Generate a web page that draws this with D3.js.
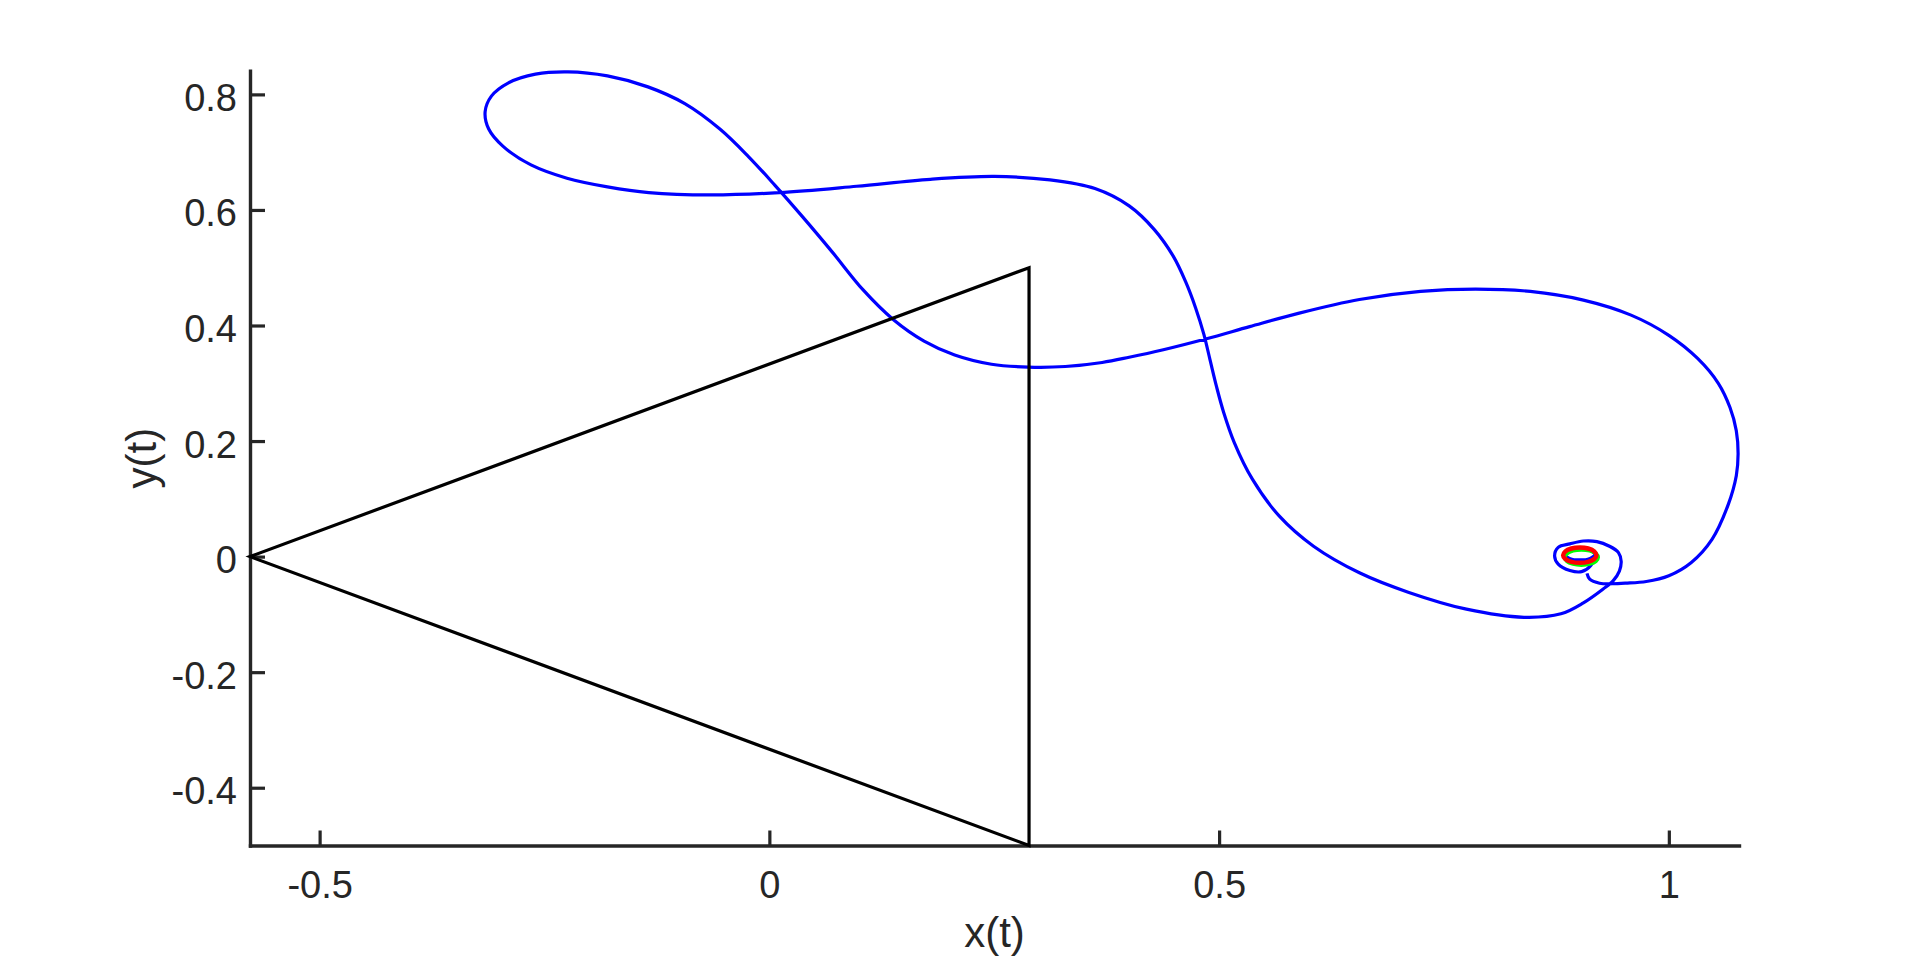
<!DOCTYPE html>
<html><head><meta charset="utf-8">
<script src="https://cdn.jsdelivr.net/npm/d3@7"></script>
<style>html,body{margin:0;padding:0;background:#fff;} svg{display:block;}</style>
</head><body>
<svg id="chart" width="1920" height="963"></svg>
<script>
// ---- data ----
const xTickValues = [-0.5, 0, 0.5, 1];
const xTickLabels = ["-0.5", "0", "0.5", "1"];
const yTickValues = [-0.4, -0.2, 0, 0.2, 0.4, 0.6, 0.8];
const yTickLabels = ["-0.4", "-0.2", "0", "0.2", "0.4", "0.6", "0.8"];
const xLabel = "x(t)";
const yLabel = "y(t)";

// triangle vertices
const triangle = [[-0.5774, 0], [0.2887, 0.5], [0.2887, -0.5]];

// blue trajectory
const blueTrajectory = [
  [0.909,-0.029],[0.912,-0.039],[0.923,-0.046],[0.937,-0.047],[0.952,-0.046],[0.975,-0.043],
  [1.000,-0.033],[1.025,-0.010],[1.048,0.030],[1.066,0.090],[1.075,0.140],[1.077,0.178],
  [1.075,0.218],[1.068,0.258],[1.055,0.300],[1.032,0.343],[1.000,0.383],[0.958,0.418],
  [0.905,0.444],[0.846,0.459],[0.785,0.463],[0.724,0.459],[0.656,0.445],[0.588,0.421],
  [0.534,0.398],[0.486,0.377],[0.438,0.358],[0.400,0.345],[0.370,0.336],[0.329,0.329],
  [0.288,0.328],[0.247,0.333],[0.206,0.349],[0.172,0.373],[0.138,0.410],[0.104,0.462],
  [0.070,0.527],[0.037,0.588],[0.006,0.643],[-0.023,0.692],[-0.055,0.740],[-0.094,0.784],
  [-0.135,0.813],[-0.180,0.832],[-0.224,0.839],[-0.260,0.835],[-0.290,0.820],[-0.309,0.797],
  [-0.316,0.770],[-0.312,0.740],[-0.296,0.710],[-0.265,0.678],[-0.225,0.655],[-0.180,0.640],
  [-0.134,0.630],[-0.066,0.626],[0.011,0.630],[0.097,0.641],[0.179,0.653],[0.250,0.658],
  [0.312,0.652],[0.362,0.637],[0.400,0.607],[0.428,0.566],[0.449,0.520],[0.463,0.475],
  [0.474,0.430],[0.483,0.385],[0.490,0.340],[0.497,0.295],[0.505,0.250],[0.517,0.197],
  [0.537,0.134],[0.567,0.070],[0.605,0.018],[0.656,-0.028],[0.711,-0.062],[0.775,-0.091],
  [0.839,-0.105],[0.880,-0.099],[0.905,-0.080],[0.927,-0.056],[0.938,-0.042],[0.945,-0.025],
  [0.947,-0.008],[0.944,0.007],[0.934,0.018],[0.920,0.026],[0.905,0.027],[0.890,0.022],
  [0.877,0.016],[0.873,0.001],[0.877,-0.013],[0.890,-0.024],[0.903,-0.026],[0.913,-0.016],
  [0.918,0.004],[0.910,0.0125],[0.901,0.0135],[0.892,0.0125],[0.884,0.004],[0.892,-0.0045],
  [0.901,-0.0055],[0.910,-0.0045],[0.918,0.004],[0.910,0.0125]
];

// green limit cycle
const greenCycle = [
  [0.9213,-0.0012],[0.9188,0.0055],[0.9121,0.0103],[0.9028,0.0120],[0.8935,0.0103],[0.8868,0.0055],
  [0.8843,-0.0012],[0.8868,-0.0079],[0.8935,-0.0127],[0.9028,-0.0145],[0.9121,-0.0127],[0.9188,-0.0079]
];
// red limit cycle
const redCycle = [
  [0.9195,0.0025],[0.9170,0.0092],[0.9103,0.0140],[0.901,0.0158],[0.8917,0.0140],[0.8850,0.0092],
  [0.8825,0.0025],[0.8850,-0.0042],[0.8917,-0.0090],[0.901,-0.0108],[0.9103,-0.0090],[0.9170,-0.0042]
];

// ---- chart ----
const svg = d3.select("#chart");
const axisColor = "#262626";
const font = "'Liberation Sans', Arial, Helvetica, sans-serif";

const x = d3.scaleLinear().domain([-0.5774, 1.078]).range([250, 1739]);
const y = d3.scaleLinear().domain([-0.5, 0.841]).range([845.5, 70.7]);

// axes
const gx = svg.append("g")
  .attr("transform", `translate(0,${y.range()[0]})`)
  .call(d3.axisBottom(x).tickValues(xTickValues).tickFormat((d, i) => xTickLabels[i])
    .tickSizeInner(-15).tickSizeOuter(0));
const gy = svg.append("g")
  .attr("transform", `translate(${x.range()[0]},0)`)
  .call(d3.axisLeft(y).tickValues(yTickValues).tickFormat((d, i) => yTickLabels[i])
    .tickSizeInner(-15).tickSizeOuter(0));

[gx, gy].forEach(g => {
  g.select(".domain").attr("stroke", axisColor).attr("stroke-width", 3.4).attr("stroke-linecap", "square");
  g.selectAll(".tick line").attr("stroke", axisColor).attr("stroke-width", 3.2);
  g.selectAll(".tick text").attr("fill", axisColor).style("font-family", font).style("font-size", "38px");
});
gx.selectAll(".tick text").attr("y", 52.5).attr("dy", 0).attr("text-anchor", "middle");
gy.selectAll(".tick text").attr("x", -13).attr("dy", 0).attr("y", 16).attr("text-anchor", "end");

// axis labels
svg.append("text")
  .attr("x", (x.range()[0] + x.range()[1]) / 2).attr("y", 947)
  .attr("text-anchor", "middle").attr("fill", axisColor)
  .style("font-family", font).style("font-size", "42px").text(xLabel);
svg.append("text")
  .attr("transform", `translate(156,${(y.range()[0] + y.range()[1]) / 2}) rotate(-90)`)
  .attr("text-anchor", "middle").attr("fill", axisColor)
  .style("font-family", font).style("font-size", "42px").text(yLabel);

// data
const smooth = d3.line().x(d => x(d[0])).y(d => y(d[1])).curve(d3.curveCatmullRom.alpha(0.5));
const smoothClosed = d3.line().x(d => x(d[0])).y(d => y(d[1])).curve(d3.curveCatmullRomClosed.alpha(0.5));
const straightClosed = d3.line().x(d => x(d[0])).y(d => y(d[1])).curve(d3.curveLinearClosed);

svg.append("path").datum(blueTrajectory).attr("d", smooth)
  .attr("fill", "none").attr("stroke", "#0000ff").attr("stroke-width", 3.2).attr("stroke-linejoin", "round");
svg.append("path").datum(triangle).attr("d", straightClosed)
  .attr("fill", "none").attr("stroke", "#000000").attr("stroke-width", 3.2).attr("stroke-linejoin", "miter");
svg.append("path").datum(greenCycle).attr("d", smoothClosed)
  .attr("fill", "none").attr("stroke", "#00ff00").attr("stroke-width", 4);
svg.append("path").datum(redCycle).attr("d", smoothClosed)
  .attr("fill", "none").attr("stroke", "#ff0000").attr("stroke-width", 4.5);
</script>
</body></html>
